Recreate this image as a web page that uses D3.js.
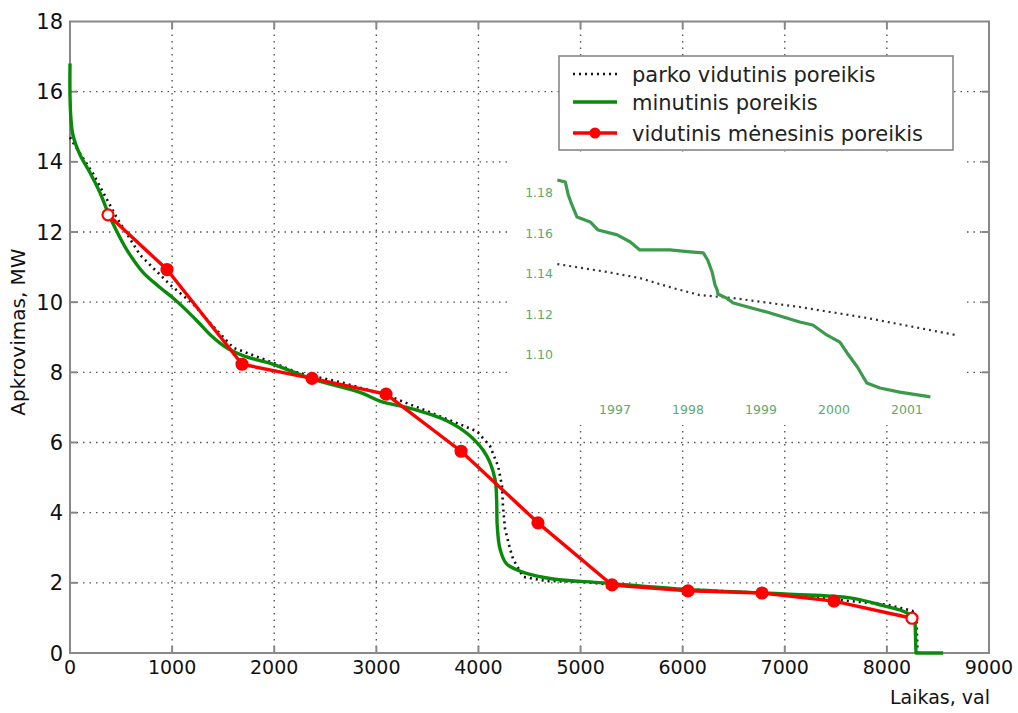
<!DOCTYPE html>
<html>
<head>
<meta charset="utf-8">
<script src="https://cdn.jsdelivr.net/npm/d3@7"></script>
<style>
  html, body { margin: 0; padding: 0; background: #fff; }
  svg { display: block; }
  text { font-family: "DejaVu Sans", Arial, sans-serif; }
</style>
</head>
<body>
<svg id="chart" width="1018" height="713"></svg>
<script>
// Load duration curves: hours per year vs. load (MW)
const xTicks = [0, 1000, 2000, 3000, 4000, 5000, 6000, 7000, 8000, 9000];
const yTicks = [0, 2, 4, 6, 8, 10, 12, 14, 16, 18];

// monthly average demand (markers)
const monthlyHours = [372, 950, 1685, 2370, 3095, 3830, 4583, 5308, 6052, 6777, 7482, 8246];
const monthlyLoad  = [12.49, 10.93, 8.23, 7.83, 7.38, 5.75, 3.71, 1.94, 1.77, 1.71, 1.48, 0.99];

// minute demand
const minuteHours = [0, 0, 10, 30, 98, 196, 294, 372, 441, 555, 715, 881, 1000, 1100, 1250, 1400, 1550, 1700,
  1991, 2382, 2840, 3036, 3361, 3689, 3917, 4081, 4162, 4178, 4184, 4211, 4276, 4439, 4733, 5223,
  6000, 7000, 7640, 7963, 8197, 8276, 8285, 8550];
const minuteLoad = [16.8, 15.9, 15.2, 14.75, 14.2, 13.69, 13.12, 12.55, 12.12, 11.5, 10.85, 10.42, 10.14, 9.88, 9.45, 9.0, 8.67, 8.47,
  8.23, 7.80, 7.43, 7.18, 6.95, 6.62, 6.19, 5.62, 4.96, 4.39, 3.63, 2.97, 2.54, 2.30, 2.11, 2.00,
  1.82, 1.68, 1.57, 1.35, 1.14, 0.89, 0, 0];

// park average demand
const parkHours = [0, 30, 225, 450, 685, 979, 1205, 1437, 1600, 1990, 2220, 2675, 3100, 3526, 3750, 3985,
  4113, 4192, 4231, 4240, 4260, 4309, 4339, 4437, 4671, 4995, 5500, 6000, 6500, 7000, 7500, 8000, 8250, 8290, 8300];
const parkLoad = [14.7, 14.55, 13.67, 12.45, 11.35, 10.5, 9.95, 9.2, 8.7, 8.27, 8.0, 7.7, 7.35, 6.86, 6.6, 6.32,
  5.9, 5.33, 4.76, 4.19, 3.54, 2.97, 2.68, 2.17, 2.05, 2.03, 1.9, 1.82, 1.75, 1.68, 1.52, 1.38, 1.2, 0.9, 0];

// small embedded time-series panel
const insetXTicks = [1997, 1998, 1999, 2000, 2001];
const insetXLabels = ["1997", "1998", "1999", "2000", "2001"];
const insetYTicks = [1.18, 1.16, 1.14, 1.12, 1.10];
const insetYLabels = ["1.18", "1.16", "1.14", "1.12", "1.10"];
const insetSeriesX = [1996.21, 1996.32, 1996.36, 1996.41, 1996.48, 1996.66, 1996.77, 1997.03, 1997.21, 1997.34,
  1997.75, 1998.03, 1998.21, 1998.27, 1998.33, 1998.37, 1998.40, 1998.41, 1998.53, 1998.62, 1999.08, 1999.53,
  1999.71, 1999.90, 2000.08, 2000.18, 2000.32, 2000.45, 2000.63, 2000.90, 2001.32];
const insetSeriesY = [1.1864, 1.1854, 1.1790, 1.1741, 1.1681, 1.1657, 1.1617, 1.1593, 1.1558, 1.1519,
  1.1519, 1.1509, 1.1504, 1.1469, 1.1410, 1.1346, 1.1321, 1.1301, 1.1281, 1.1257, 1.1212, 1.1163,
  1.1148, 1.1099, 1.1064, 1.1010, 1.0941, 1.0862, 1.0837, 1.0817, 1.0793];
const insetTrendX = [1996.21, 1996.89, 1997.34, 1997.79, 1998.16, 1998.62, 1999.53, 2000.45, 2001.66];
const insetTrendY = [1.1449, 1.1410, 1.1380, 1.1331, 1.1296, 1.1281, 1.1237, 1.1183, 1.1099];

const legendLabels = ["parko vidutinis poreikis", "minutinis poreikis", "vidutinis mėnesinis poreikis"];
const xTitle = "Laikas, val";
const yTitle = "Apkrovimas, MW";

const svg = d3.select("#chart");
svg.append("rect").attr("width", 1018).attr("height", 713).attr("fill", "#fff");

const plot = { left: 70, right: 989, top: 21.5, bottom: 653 };
const x = d3.scaleLinear().domain([0, 9000]).range([plot.left, plot.right]);
const y = d3.scaleLinear().domain([0, 18]).range([plot.bottom, plot.top]);

// grid
const grid = svg.append("g");
grid.selectAll("line.gx").data(xTicks.slice(1, -1)).join("line")
  .attr("x1", d => x(d)).attr("x2", d => x(d))
  .attr("y1", plot.top).attr("y2", plot.bottom)
  .attr("stroke", "#555").attr("stroke-width", 1.4).attr("stroke-dasharray", "1.5,5");
grid.selectAll("line.gy").data(yTicks.slice(1, -1)).join("line")
  .attr("y1", d => y(d)).attr("y2", d => y(d))
  .attr("x1", plot.left).attr("x2", plot.right)
  .attr("stroke", "#555").attr("stroke-width", 1.4).attr("stroke-dasharray", "1.5,5");

// inset panel background hides the grid beneath it
const inX = d3.scaleLinear().domain([1997, 2001]).range([615, 907]);
const inY = d3.scaleLinear().domain([1.10, 1.18]).range([355, 193]);
svg.append("rect").attr("x", 508).attr("y", 152).attr("width", 458).attr("height", 273).attr("fill", "#fff");

const inset = svg.append("g");
inset.selectAll("text.iy").data(insetYTicks).join("text")
  .attr("x", 553).attr("y", d => inY(d)).attr("dy", "0.35em")
  .attr("text-anchor", "end").attr("font-size", 12.5).attr("fill", "#5fa86e")
  .text((d, i) => insetYLabels[i]);
inset.selectAll("text.ix").data(insetXTicks).join("text")
  .attr("x", d => inX(d)).attr("y", 410).attr("dy", "0.35em")
  .attr("text-anchor", "middle").attr("font-size", 12.5).attr("fill", "#5fa86e")
  .text((d, i) => insetXLabels[i]);
const inLine = d3.line().x(d => inX(d[0])).y(d => inY(d[1]));
inset.append("path")
  .attr("d", inLine(d3.zip(insetTrendX, insetTrendY)))
  .attr("fill", "none").attr("stroke", "#333").attr("stroke-width", 2.2).attr("stroke-dasharray", "2,4");
inset.append("path")
  .attr("d", inLine(d3.zip(insetSeriesX, insetSeriesY)))
  .attr("fill", "none").attr("stroke", "#3c9a4c").attr("stroke-width", 3.2).attr("stroke-linejoin", "round");

// axes frame and inward ticks
const axisColor = "#888";
svg.append("rect").attr("x", plot.left).attr("y", plot.top)
  .attr("width", plot.right - plot.left).attr("height", plot.bottom - plot.top)
  .attr("fill", "none").attr("stroke", axisColor).attr("stroke-width", 2);
const ticks = svg.append("g").attr("stroke", axisColor).attr("stroke-width", 2);
xTicks.slice(1, -1).forEach(t => {
  ticks.append("line").attr("x1", x(t)).attr("x2", x(t)).attr("y1", plot.bottom).attr("y2", plot.bottom - 7);
  ticks.append("line").attr("x1", x(t)).attr("x2", x(t)).attr("y1", plot.top).attr("y2", plot.top + 7);
});
yTicks.slice(1, -1).forEach(t => {
  ticks.append("line").attr("y1", y(t)).attr("y2", y(t)).attr("x1", plot.left).attr("x2", plot.left + 7);
  ticks.append("line").attr("y1", y(t)).attr("y2", y(t)).attr("x1", plot.right).attr("x2", plot.right - 7);
});

// tick labels
svg.append("g").selectAll("text").data(xTicks).join("text")
  .attr("x", d => x(d)).attr("y", 674)
  .attr("text-anchor", "middle").attr("font-size", 19).attr("fill", "#111")
  .text(d => d);
svg.append("g").selectAll("text").data(yTicks).join("text")
  .attr("x", 63).attr("y", d => y(d)).attr("dy", "0.36em")
  .attr("text-anchor", "end").attr("font-size", 21).attr("fill", "#111")
  .text(d => d);

// axis titles
svg.append("text").attr("x", 990).attr("y", 704).attr("text-anchor", "end")
  .attr("font-size", 19).attr("fill", "#111").text(xTitle);
svg.append("text").attr("transform", "translate(25,332) rotate(-90)").attr("text-anchor", "middle")
  .attr("font-size", 20).attr("fill", "#111").text(yTitle);

// series
const line = d3.line().x(d => x(d[0])).y(d => y(d[1]));
const smooth = d3.line().x(d => x(d[0])).y(d => y(d[1])).curve(d3.curveCatmullRom.alpha(0.5));
svg.append("path").attr("d", line(d3.zip(parkHours, parkLoad)))
  .attr("fill", "none").attr("stroke", "#111").attr("stroke-width", 2.6).attr("stroke-dasharray", "2,4");

// minute demand: smooth body, straight drop to zero at the end of the year
const minutePts = d3.zip(minuteHours, minuteLoad);
const nTail = 3;
const greenStyle = p => p.attr("fill", "none").attr("stroke", "#0a8a0a").attr("stroke-width", 3.4)
  .attr("stroke-linejoin", "round");
svg.append("path").attr("d", smooth(minutePts.slice(0, minutePts.length - nTail + 1))).call(greenStyle);
svg.append("path").attr("d", line(minutePts.slice(minutePts.length - nTail))).call(greenStyle);

svg.append("path").attr("d", line(d3.zip(monthlyHours, monthlyLoad)))
  .attr("fill", "none").attr("stroke", "#ff0000").attr("stroke-width", 3.4).attr("stroke-linejoin", "round");
svg.append("g").selectAll("circle").data(d3.zip(monthlyHours, monthlyLoad)).join("circle")
  .attr("cx", d => x(d[0])).attr("cy", d => y(d[1])).attr("r", 5.5)
  .attr("fill", (d, i) => (i === 0 || i === monthlyHours.length - 1) ? "#fff" : "#ff0000")
  .attr("stroke", "#ff0000").attr("stroke-width", 2.2);

// legend
const lg = svg.append("g");
lg.append("rect").attr("x", 559).attr("y", 56).attr("width", 394).attr("height", 94)
  .attr("fill", "#fff").attr("stroke", "#888").attr("stroke-width", 1.6);
const rows = [74, 102, 133];
lg.append("line").attr("x1", 573).attr("x2", 617).attr("y1", rows[0]).attr("y2", rows[0])
  .attr("stroke", "#111").attr("stroke-width", 2.6).attr("stroke-dasharray", "2,4");
lg.append("line").attr("x1", 573).attr("x2", 617).attr("y1", rows[1]).attr("y2", rows[1])
  .attr("stroke", "#0a8a0a").attr("stroke-width", 3.4);
lg.append("line").attr("x1", 573).attr("x2", 617).attr("y1", rows[2]).attr("y2", rows[2])
  .attr("stroke", "#ff0000").attr("stroke-width", 3.4);
lg.append("circle").attr("cx", 595).attr("cy", rows[2]).attr("r", 5.5).attr("fill", "#ff0000");
lg.selectAll("text").data(legendLabels).join("text")
  .attr("x", 632).attr("y", (d, i) => rows[i]).attr("dy", "0.36em")
  .attr("font-size", 21).attr("fill", "#222").text(d => d);
</script>
</body>
</html>
